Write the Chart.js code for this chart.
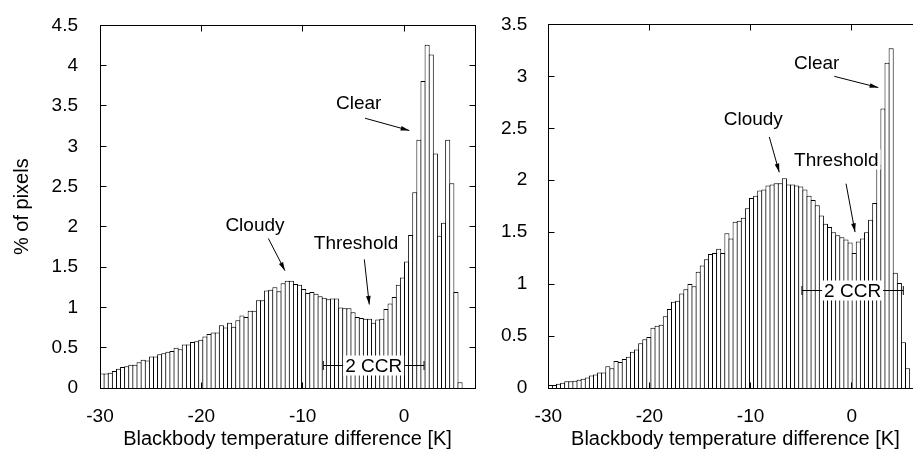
<!DOCTYPE html>
<html><head><meta charset="utf-8">
<script src="https://cdn.jsdelivr.net/npm/chart.js@4"></script>
<style>
html,body{margin:0;padding:0;background:#fff;overflow:hidden;width:913px;height:460px;position:relative;}
#c1{position:absolute;left:0;top:0;}
#c2{position:absolute;left:480px;top:0;}
</style></head><body>
<canvas id="c1" width="480" height="460"></canvas>
<canvas id="c2" width="450" height="460"></canvas>
<script>
// ---- data ----
const binStart = -30;
const binWidth = 0.406;
const xMin = -30, xMax = 7;

const leftValues = [
 0.18,0.18,0.19,0.21,0.24,0.26,0.27,0.29,0.29,0.32,
 0.35,0.34,0.39,0.39,0.42,0.43,0.45,0.46,0.50,0.48,
 0.54,0.54,0.57,0.58,0.60,0.64,0.67,0.69,0.69,0.78,
 0.75,0.81,0.76,0.84,0.90,0.88,0.96,0.96,1.09,1.09,
 1.21,1.22,1.25,1.20,1.30,1.33,1.33,1.29,1.28,1.23,
 1.18,1.19,1.17,1.14,1.12,1.10,1.11,1.11,1.00,0.99,
 0.99,0.94,0.88,0.87,0.86,0.86,0.81,0.85,0.86,0.98,
 1.05,1.13,1.28,1.37,1.57,1.90,2.43,3.08,3.81,4.26,
 4.14,2.91,1.89,2.05,3.08,2.54,1.19,0.07];

const rightValues = [
 0.03,0.03,0.04,0.05,0.065,0.065,0.07,0.08,0.09,0.10,
 0.12,0.13,0.15,0.15,0.21,0.19,0.26,0.25,0.28,0.30,
 0.35,0.37,0.43,0.47,0.49,0.58,0.60,0.61,0.69,0.76,
 0.83,0.84,0.91,0.95,1.00,0.98,1.12,1.18,1.24,1.29,
 1.30,1.34,1.30,1.49,1.44,1.60,1.61,1.64,1.73,1.83,
 1.85,1.90,1.91,1.95,1.96,1.97,1.97,2.02,1.96,1.96,
 1.95,1.94,1.91,1.85,1.81,1.76,1.66,1.58,1.55,1.50,
 1.47,1.45,1.43,1.40,1.30,1.41,1.44,1.50,1.62,1.78,
 2.15,2.69,3.13,3.27,1.11,1.01,0.44,0.19];

const xTicks = [-30, -20, -10, 0];
const leftYTicks = [0, 0.5, 1, 1.5, 2, 2.5, 3, 3.5, 4, 4.5];
const rightYTicks = [0, 0.5, 1, 1.5, 2, 2.5, 3, 3.5];
const xTitle = 'Blackbody temperature difference [K]';
const yTitle = '% of pixels';

// annotations (data coordinates)
const leftNotes = {
  labels: [
    {text: 'Clear', x: -4.47, y: 3.544},
    {text: 'Cloudy', x: -14.71, y: 2.03},
    {text: 'Threshold', x: -4.74, y: 1.80, box: true}
  ],
  arrows: [
    {x1: -3.85, y1: 3.348, x2: 0.52, y2: 3.196},
    {x1: -13.39, y1: 1.856, x2: -11.75, y2: 1.456},
    {x1: -3.92, y1: 1.596, x2: -3.43, y2: 1.036}
  ],
  ranges: [{text: '2 CCR', x1: -7.97, x2: 1.97, y: 0.276}]
};
const rightNotes = {
  labels: [
    {text: 'Clear', x: -3.46, y: 3.13},
    {text: 'Cloudy', x: -9.73, y: 2.588},
    {text: 'Threshold', x: -1.52, y: 2.2, box: true}
  ],
  arrows: [
    {x1: -1.72, y1: 3.0, x2: 2.63, y2: 2.892},
    {x1: -8.15, y1: 2.417, x2: -7.16, y2: 2.076},
    {x1: -0.56, y1: 1.967, x2: 0.33, y2: 1.501}
  ],
  ranges: [{text: '2 CCR', x1: -4.92, x2: 5.10, y: 0.937}]
};

// ---- drawing helpers ----
const FONT = '"Liberation Sans", Arial, Helvetica, sans-serif';
const TICK_LEN = 6;

const framePlugin = {
  id: 'frame',
  afterDraw(chart) {
    const {ctx, chartArea, scales} = chart;
    const L = Math.floor(chartArea.left) + 0.5, R = Math.floor(chartArea.right) + 0.5;
    const T = Math.floor(chartArea.top) + 0.5, B = Math.floor(chartArea.bottom) + 0.5;
    ctx.save();
    ctx.strokeStyle = '#000'; ctx.lineWidth = 1;
    ctx.strokeRect(L, T, R - L, B - T);
    ctx.beginPath();
    scales.x.ticks.forEach(t => {
      const px = Math.floor(scales.x.getPixelForValue(t.value)) + 0.5;
      ctx.moveTo(px, B); ctx.lineTo(px, B - TICK_LEN);
      ctx.moveTo(px, T); ctx.lineTo(px, T + TICK_LEN);
    });
    scales.y.ticks.forEach(t => {
      const py = Math.floor(scales.y.getPixelForValue(t.value)) + 0.5;
      ctx.moveTo(L, py); ctx.lineTo(L + TICK_LEN, py);
      ctx.moveTo(R, py); ctx.lineTo(R - TICK_LEN, py);
    });
    ctx.stroke();
    ctx.restore();
  }
};

function drawArrow(ctx, x1, y1, x2, y2) {
  ctx.beginPath(); ctx.moveTo(x1, y1); ctx.lineTo(x2, y2); ctx.stroke();
  const ang = Math.atan2(y2 - y1, x2 - x1), len = 9, w = Math.PI / 12;
  ctx.beginPath();
  ctx.moveTo(x2, y2);
  ctx.lineTo(x2 - len * Math.cos(ang - w), y2 - len * Math.sin(ang - w));
  ctx.lineTo(x2 - len * Math.cos(ang + w), y2 - len * Math.sin(ang + w));
  ctx.closePath(); ctx.fill();
}

function drawLabel(ctx, text, px, py, box) {
  ctx.font = '19px ' + FONT;
  ctx.textAlign = 'center'; ctx.textBaseline = 'middle';
  if (box) {
    const w = ctx.measureText(text).width + 4;
    ctx.fillStyle = '#fff';
    ctx.fillRect(px - w / 2, py - 10, w, 20);
  }
  ctx.fillStyle = '#000';
  ctx.fillText(text, px, py + 1);
}

function makeNotesPlugin(notes) {
  return {
    id: 'notes',
    afterDatasetsDraw(chart) {
      const {ctx, scales: {x, y}} = chart;
      ctx.save();
      ctx.strokeStyle = '#000'; ctx.fillStyle = '#000'; ctx.lineWidth = 1;
      notes.arrows.forEach(a => drawArrow(ctx,
        x.getPixelForValue(a.x1), y.getPixelForValue(a.y1),
        x.getPixelForValue(a.x2), y.getPixelForValue(a.y2)));
      notes.ranges.forEach(r => {
        const p1 = x.getPixelForValue(r.x1), p2 = x.getPixelForValue(r.x2);
        const py = Math.floor(y.getPixelForValue(r.y)) + 0.5;
        ctx.beginPath();
        ctx.moveTo(p1, py); ctx.lineTo(p2, py);
        ctx.moveTo(p1, py - 4.5); ctx.lineTo(p1, py + 4.5);
        ctx.moveTo(p2, py - 4.5); ctx.lineTo(p2, py + 4.5);
        ctx.stroke();
        drawLabel(ctx, r.text, (p1 + p2) / 2, py, true);
      });
      notes.labels.forEach(l => drawLabel(ctx, l.text,
        x.getPixelForValue(l.x), y.getPixelForValue(l.y), l.box));
      ctx.restore();
    }
  };
}

function makeChart(id, values, yTicks, yMax, cfg) {
  const points = values.map((v, i) => ({x: binStart + (i + 0.5) * binWidth, y: v}));
  return new Chart(document.getElementById(id), {
    type: 'bar',
    data: {datasets: [{
      data: points,
      backgroundColor: '#ffffff',
      borderColor: '#000000',
      borderWidth: 1,
      borderSkipped: 'start',
      barPercentage: 1.24,
      categoryPercentage: 1,
      inflateAmount: 0
    }]},
    options: {
      responsive: false, animation: false, devicePixelRatio: 1,
      layout: {padding: {top: cfg.top, right: cfg.right, left: 0, bottom: 0}},
      plugins: {legend: {display: false}, tooltip: {enabled: false}},
      scales: {
        x: {
          type: 'linear', min: xMin, max: xMax, offset: false,
          grid: {display: false}, border: {display: false},
          afterBuildTicks: s => { s.ticks = xTicks.map(v => ({value: v})); },
          afterFit: s => { s.height = 72; },
          ticks: {callback: v => String(v), font: {family: FONT, size: 19}, color: '#000',
                  padding: 9, maxRotation: 0, autoSkip: false},
          title: {display: true, text: xTitle, font: {family: FONT, size: 20}, color: '#000',
                  padding: {top: 0, bottom: 9}}
        },
        y: {
          min: 0, max: yMax,
          grid: {display: false}, border: {display: false},
          afterBuildTicks: s => { s.ticks = yTicks.map(v => ({value: v})); },
          afterFit: s => { s.width = cfg.yWidth; },
          ticks: {callback: v => String(v), font: {family: FONT, size: 19}, color: '#000',
                  padding: cfg.labelPad, autoSkip: false},
          title: {display: cfg.showYTitle, text: yTitle, font: {family: FONT, size: 20}, color: '#000',
                  padding: {top: 10, bottom: 0}}
        }
      }
    },
    plugins: [makeNotesPlugin(cfg.notes), framePlugin]
  });
}

makeChart('c1', leftValues, leftYTicks, 4.5,
  {top: 13, right: 5, yWidth: 100, labelPad: 14, showYTitle: true, notes: leftNotes});
makeChart('c2', rightValues, rightYTicks, 3.5,
  {top: 12, right: 7.5, yWidth: 68.3, labelPad: 13, showYTitle: false, notes: rightNotes});
</script>
</body></html>
